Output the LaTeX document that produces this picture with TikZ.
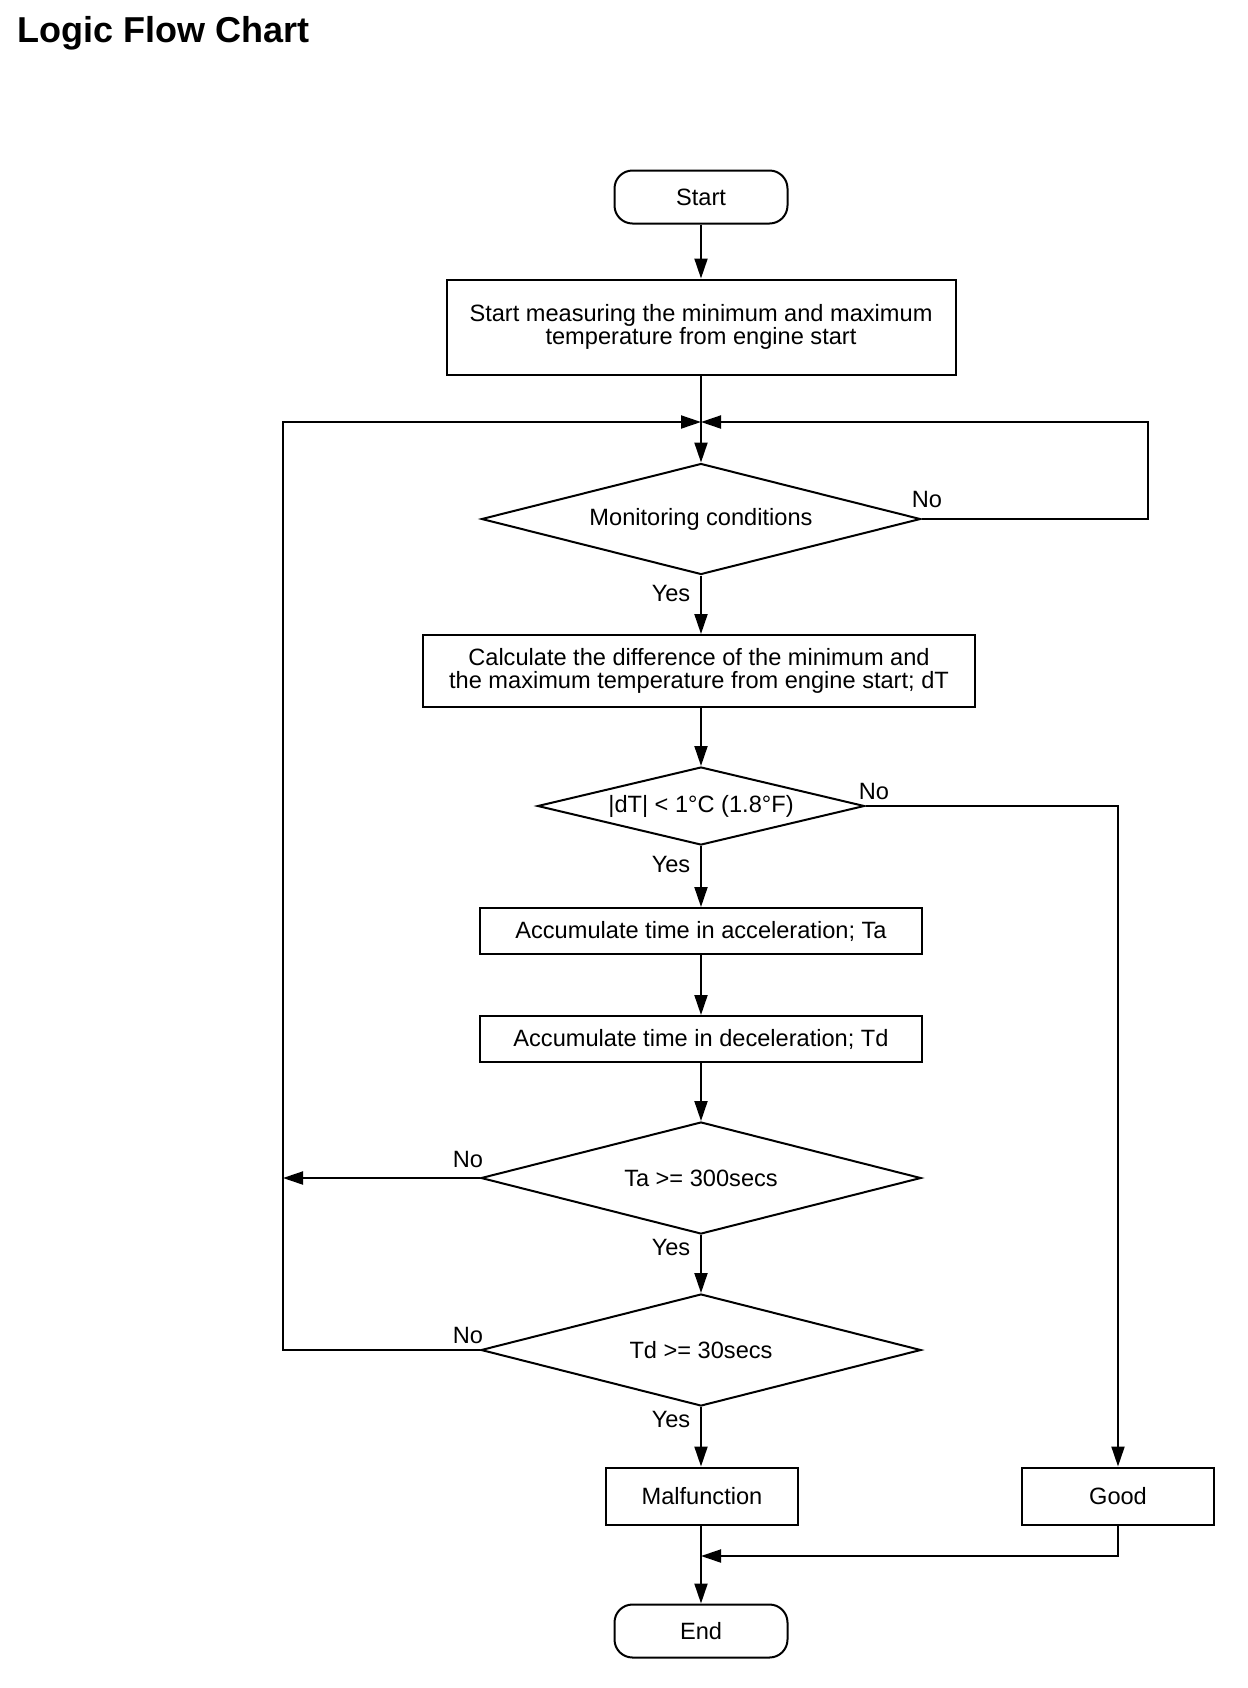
\documentclass[tikz,border=0pt]{standalone}
\usepackage{fontspec}
\setmainfont{Liberation Sans}
\usepackage{tikz}
\usetikzlibrary{shapes.geometric,arrows.meta,positioning,calc}

\begin{document}
\begin{tikzpicture}[x=0.5pt, y=-0.5pt,
    every node/.style={font=\fontsize{11.8}{11.8}\selectfont},
    termbox/.style={draw, line width=1pt, rounded corners=9pt, minimum width=86.5pt, minimum height=26.5pt, inner sep=0pt},
    procbox/.style={draw, line width=1pt, inner sep=0pt, align=center},
    decision/.style={draw, diamond, aspect=4, inner sep=0pt, line width=1pt},
    flow/.style={line width=1pt, -{Triangle[length=10pt,width=6.5pt]}},
    lbl/.style={inner sep=0pt}]
    \useasboundingbox (0,0) rectangle (1248,1688);

    % Title
    \node[font=\fontsize{18}{18}\selectfont\bfseries, anchor=base west, inner sep=0pt] (title) at (17,42) {Logic Flow Chart};

    % Main column
    \node[termbox] (start) at (701,197) {Start};
    \node[procbox, minimum width=254.5pt, minimum height=47.5pt] (measure) at (701,327)
        {Start measuring the minimum and maximum\\temperature from engine start};
    \node[decision, minimum width=219.5pt, minimum height=55.5pt] (monitor) at (701,519) {Monitoring conditions};
    \node[procbox, minimum width=276pt, minimum height=36pt] (calcdt) at (699,671)
        {Calculate the difference of the minimum and\\the maximum temperature from engine start; dT};
    \node[decision, minimum width=163.5pt, minimum height=39pt] (checkdt) at (701,806) {|dT| < 1°C (1.8°F)};
    \node[procbox, minimum width=221pt, minimum height=23pt] (accel) at (701,931) {Accumulate time in acceleration; Ta};
    \node[procbox, minimum width=221pt, minimum height=23pt] (decel) at (701,1039) {Accumulate time in deceleration; Td};
    \node[decision, minimum width=220pt, minimum height=56pt] (checkta) at (701,1178) {Ta >= 300secs};
    \node[decision, minimum width=220pt, minimum height=56pt] (checktd) at (701,1350) {Td >= 30secs};
    \node[procbox, minimum width=96pt, minimum height=28.5pt] (malf) at (702,1496) {Malfunction};
    \node[procbox, minimum width=96pt, minimum height=28.5pt] (good) at (1118,1496) {Good};
    \node[termbox] (end) at (701,1631) {End};

    % Junction points
    \coordinate (mtop) at (701,422);
    \coordinate (rtop) at (1148,422);
    \coordinate (ltop) at (283,422);
    \coordinate (lbot) at (283,1350);
    \coordinate (mbot) at (701,1556);

    % Straight flow
    \draw[flow] (start) -- (measure);
    \draw[flow] (measure) -- (monitor);
    \draw[flow] (monitor) -- (calcdt.north -| monitor.south);
    \draw[flow] (calcdt.south -| checkdt.north) -- (checkdt);
    \draw[flow] (checkdt) -- (accel);
    \draw[flow] (accel) -- (decel);
    \draw[flow] (decel) -- (checkta);
    \draw[flow] (checkta) -- (checktd);
    \draw[flow] (checktd) -- (checktd.south |- malf.north);
    \draw[flow] (malf.south -| end.north) -- (end);

    % Loops back
    \draw[flow] (monitor.east) -| (rtop) -- (mtop);
    \draw[flow] (checktd.west) -- (lbot) -- (ltop) -- (mtop);
    \draw[flow] (checkta.west) -- (checkta.west -| lbot);

    % Good branch
    \draw[flow] (checkdt.east) -| (good.north);
    \draw[flow] (good.south) |- (mbot);

    % Yes / No labels
    \node[lbl] (no1) at (927,499) {No};
    \node[lbl] (yes1) at (671,593) {Yes};
    \node[lbl] (no2) at (874,791) {No};
    \node[lbl] (yes2) at (671,864) {Yes};
    \node[lbl] (no3) at (468,1159) {No};
    \node[lbl] (yes3) at (671,1247) {Yes};
    \node[lbl] (no4) at (468,1335) {No};
    \node[lbl] (yes4) at (671,1419) {Yes};
\end{tikzpicture}
\end{document}
